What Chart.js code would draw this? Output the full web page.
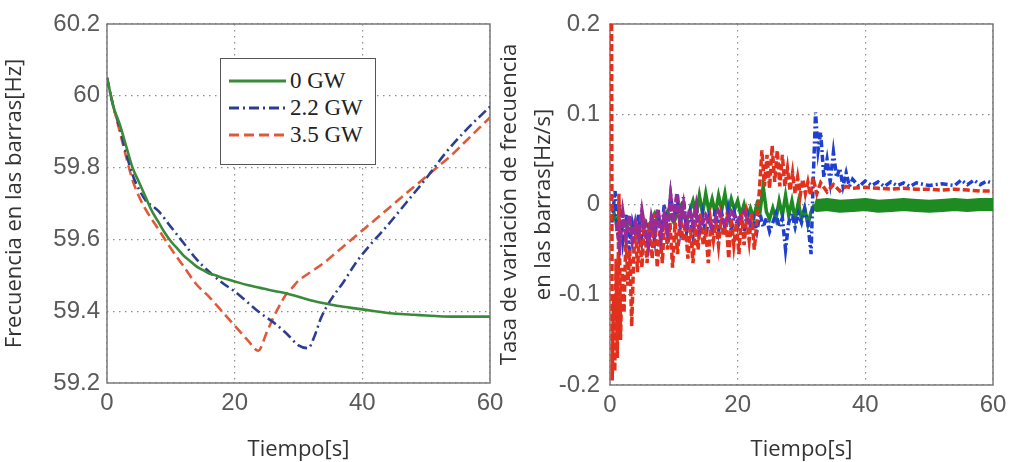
<!DOCTYPE html>
<html>
<head>
<meta charset="utf-8">
<script src="https://cdn.jsdelivr.net/npm/chart.js@4.4.1/dist/chart.umd.min.js"></script>
<style>
  html, body { margin: 0; padding: 0; background: #fff; }
  #wrap { position: relative; width: 1010px; height: 462px; overflow: hidden; background: #fff; }
  .panel { position: absolute; top: 0; }
  #izq { left: 0; }
  #der { left: 490px; }
  #leyenda {
    position: absolute; left: 220px; top: 58px; width: 156px; height: 107px;
    box-sizing: border-box; border: 1.5px solid #555; background: #fff;
    padding-top: 8px; font-family: "Liberation Serif", serif; font-size: 23px; color: #222;
  }
  .fila { height: 27px; display: flex; align-items: center; padding-left: 8px; }
  .fila svg { width: 57px; height: 10px; margin-right: 4px; flex: none; }
</style>
</head>
<body>
<div id="wrap">
  <canvas id="izq" class="panel" width="505" height="462"></canvas>
  <canvas id="der" class="panel" width="520" height="462"></canvas>
  <div id="leyenda"></div>
</div>
<script>
// ejes
const ticksX = [0, 20, 40, 60];
const ticksFrec = [59.2, 59.4, 59.6, 59.8, 60, 60.2];
const etiquetasFrec = ["59.2", "59.4", "59.6", "59.8", "60", "60.2"];
const ticksTasa = [-0.2, -0.1, 0, 0.1, 0.2];
const etiquetasTasa = ["-0.2", "-0.1", "0", "0.1", "0.2"];

const nombres = ["0 GW", "2.2 GW", "3.5 GW"];

// panel izquierdo: frecuencia [Hz]
const tVerde = [0, 1, 2, 3, 4, 5, 6, 7, 8, 9,
  10, 11, 12, 13, 14, 15, 16, 17, 18, 19,
  20,
  22, 24, 26, 28, 30, 32, 34, 36, 38, 40,
  42, 44, 46, 48, 50, 52, 54, 56, 58, 60];
const fVerde = [60.05, 59.97, 59.92, 59.86, 59.8, 59.76, 59.72, 59.68, 59.65, 59.62,
  59.595, 59.575, 59.555, 59.54, 59.525, 59.515, 59.505, 59.5, 59.493, 59.488,
  59.483,
  59.473, 59.465, 59.457, 59.45, 59.44, 59.43, 59.422, 59.415, 59.41, 59.405,
  59.4, 59.395, 59.392, 59.39, 59.388, 59.386, 59.385, 59.385, 59.385, 59.385];

const tAzul = [0, 1, 2, 3, 4, 5, 6, 8, 10, 12,
  14, 16, 18, 20, 22, 24, 26, 28, 30, 31.5,
  32.5, 33.5, 35, 37, 39, 41, 44, 47, 50, 53,
  56, 60];
const fAzul = [60.05, 59.97, 59.91, 59.84, 59.78, 59.74, 59.71, 59.68, 59.635, 59.59,
  59.545, 59.51, 59.48, 59.455, 59.425, 59.395, 59.37, 59.34, 59.305, 59.297,
  59.33, 59.38, 59.43, 59.48, 59.535, 59.58, 59.64, 59.705, 59.77, 59.84,
  59.9, 59.97];

const tRojo = [0, 1, 2, 3, 4, 5, 6, 8, 10, 12,
  14, 16, 18, 20, 22, 23.7, 25, 26, 27, 28,
  29, 30, 32, 34, 36, 38, 40, 42, 44, 46,
  48, 50, 52, 54, 56, 58, 60];
const fRojo = [60.05, 59.97, 59.9, 59.83, 59.765, 59.72, 59.685, 59.63, 59.575, 59.525,
  59.475, 59.44, 59.4, 59.36, 59.32, 59.29, 59.34, 59.38, 59.415, 59.445,
  59.465, 59.485, 59.51, 59.535, 59.565, 59.595, 59.625, 59.655, 59.685, 59.715,
  59.745, 59.775, 59.805, 59.835, 59.87, 59.905, 59.94];

// panel derecho: tasa de variacion [Hz/s]
const tTasaRojo = [0.25, 0.35, 0.55, 0.75, 0.95, 1.15, 1.4, 1.65, 1.9,
  2.2, 2.5, 2.8, 3.1, 3.4, 3.7, 4.0, 4.3, 4.6,
  5.0, 5.4, 5.8, 6.2, 6.6, 7.0, 7.4, 7.8, 8.2, 8.6,
  9.0, 9.4, 9.8, 10.2, 10.6, 11.0, 11.4, 11.8, 12.2, 12.6,
  13.0, 13.4, 13.8, 14.2, 14.6, 15.0, 15.4, 15.8, 16.2, 16.6,
  17.0, 17.4, 17.8, 18.2, 18.6, 19.0, 19.4, 19.8, 20.2, 20.6,
  21.0, 21.4, 21.8, 22.2, 22.6, 23.0, 23.4, 23.8, 24.2, 24.6,
  25.0, 25.4, 25.8, 26.2, 26.6, 27.0, 27.4, 27.8, 28.2, 28.6,
  29.0, 29.4, 29.8, 30.2, 30.6, 31.0, 31.4, 31.8, 32.4, 33,
  34, 35, 36, 37, 38, 40, 42, 44, 46, 48,
  50, 52, 54, 56, 58, 60];
const tasaRojo = [0.2, -0.195, -0.1, -0.185, -0.06, -0.17, 0.012, -0.15, -0.07,
  -0.12, -0.03, -0.09, -0.05, -0.135, -0.06, -0.02, -0.075, -0.03,
  -0.07, -0.015, -0.065, -0.02, -0.06, -0.01, -0.07, -0.03, -0.065, -0.01,
  -0.05, -0.02, -0.07, -0.02, -0.055, -0.01, -0.04, -0.02, -0.06, -0.025,
  -0.065, -0.02, -0.05, -0.01, -0.045, -0.03, -0.065, -0.02, -0.04, -0.02,
  -0.045, -0.015, -0.035, -0.02, -0.06, -0.015, -0.045, -0.02, -0.055, -0.01,
  -0.045, -0.015, -0.04, -0.01, -0.05, -0.02, 0.015, 0.06, 0.02, 0.055,
  0.018, 0.065, 0.025, 0.06, 0.02, 0.055, 0.02, 0.04, 0.015, 0.035,
  0.012, 0.03, 0.01, 0.028, 0.012, 0.025, 0.01, 0.03, 0.012, 0.024,
  0.014, 0.022, 0.015, 0.02, 0.018, 0.019, 0.018, 0.017, 0.018, 0.017,
  0.017, 0.016, 0.017, 0.016, 0.015, 0.015];

const tTasaAzul = [0.3, 0.8, 1.1, 1.5, 2, 2.5, 3, 3.5, 4, 4.5,
  5, 5.5, 6, 6.5, 7, 7.5, 8, 8.5, 9, 9.5,
  10, 10.5, 11, 11.5, 12, 12.5, 13, 13.5, 14, 14.5,
  15, 15.5, 16, 16.5, 17, 17.5, 18, 18.5, 19, 19.5,
  20, 20.5, 21, 21.5, 22, 22.5, 23, 23.5, 24, 24.5,
  25, 25.5, 26, 26.5, 27, 27.5, 28, 28.5, 29, 29.5,
  30, 30.5, 31, 31.5, 31.8, 32.2, 32.6, 33, 33.5, 34,
  34.5, 35, 35.5, 36, 36.5, 37, 37.5, 38, 39, 40,
  41, 42, 43, 44, 45, 46, 47, 48, 50, 52,
  54, 55, 56, 57, 58, 59, 60];
const tasaAzul = [-0.02, 0.015, -0.03, 0.0, -0.04, -0.01, -0.05, -0.02, -0.035, -0.01,
  -0.04, -0.015, -0.045, -0.02, -0.04, -0.005, -0.035, 0.0, -0.03, 0.01,
  -0.02, 0.012, -0.025, 0.008, -0.03, -0.01, -0.035, -0.005, -0.03, -0.01,
  -0.035, -0.015, -0.03, -0.005, -0.03, -0.01, -0.025, -0.005, -0.03, -0.01,
  -0.025, -0.012, -0.03, -0.01, -0.025, -0.015, -0.03, -0.01, -0.025, -0.015,
  -0.03, -0.02, -0.01, -0.025, -0.015, -0.05, -0.02, -0.01, -0.025, -0.01,
  -0.02, -0.005, -0.02, -0.055, 0.02, 0.102, 0.06, 0.08, 0.03, 0.05,
  0.025, 0.058, 0.03, 0.04, 0.02, 0.035, 0.02, 0.028, 0.02, 0.026,
  0.021, 0.025, 0.02, 0.025, 0.021, 0.024, 0.02, 0.024, 0.021, 0.023,
  0.021, 0.027, 0.022, 0.027, 0.022, 0.026, 0.023];

const tTasaVerde = [0.3, 1, 2, 3, 4, 5, 6, 7, 8, 9,
  10, 11, 12, 13, 13.5, 14, 14.5, 15, 15.5, 16,
  16.5, 17, 17.5, 18, 18.5, 19, 19.5, 20, 20.5, 21,
  21.5, 22, 22.5, 23, 23.5, 24, 24.5, 25, 25.5, 26,
  26.5, 27, 27.5, 28, 28.5, 29, 29.5, 30, 30.5, 31,
  31.5, 32, 32.5, 34, 36, 38, 40, 42, 44, 46,
  48, 50, 52, 54, 56, 58, 60];
const tasaVerde = [0, -0.02, -0.025, -0.02, -0.03, -0.015, -0.025, -0.01, -0.025, -0.008,
  -0.02, -0.002, -0.018, 0.004, -0.012, 0.01, -0.01, 0.012, -0.008, 0.006,
  -0.01, 0.01, -0.006, 0.012, -0.01, 0.006, -0.006, 0.004, -0.012, 0.0,
  -0.014, -0.004, -0.015, 0.0, -0.008, 0.02, -0.008, -0.016, -0.004, -0.016,
  0.004, -0.012, 0.01, -0.012, 0.004, -0.016, 0.002, -0.016, -0.004, -0.022,
  -0.008, 0.0, -0.001, 0.0, -0.002, -0.001, 0.0, -0.002, -0.001, 0.0,
  -0.001, -0.002, -0.001, 0.0, -0.001, 0.0, 0.0];

const tTasaMorado = [1, 1.5, 2, 2.5, 3, 3.5, 4, 4.5, 5, 5.5,
  6, 6.5, 7, 7.5, 8, 8.5, 9, 9.5, 10, 10.5,
  11, 11.5, 12, 12.5, 13, 13.5, 14, 15, 16, 17,
  18, 19, 20, 21, 22];
const tasaMorado = [-0.02, -0.045, -0.01, -0.035, -0.012, -0.04, -0.02, -0.035, -0.008, -0.03,
  -0.045, -0.015, -0.03, -0.005, -0.035, -0.012, -0.028, 0.008, -0.02, 0.012,
  -0.018, 0.0, -0.028, -0.006, -0.022, -0.002, -0.028, -0.012, -0.026, -0.008,
  -0.022, -0.008, -0.018, -0.008, -0.022];

const pares = (t, v) => t.map((x, i) => ({ x, y: v[i] }));

const marco = {
  id: "marco",
  beforeDatasetsDraw(chart) {
    const { ctx, chartArea: a } = chart;
    ctx.save();
    ctx.strokeStyle = "#7a7a7a";
    ctx.lineWidth = 1.5;
    ctx.strokeRect(a.left, a.top, a.right - a.left, a.bottom - a.top);
    ctx.restore();
  },
};

function opciones(cfg) {
  return {
    responsive: false,
    animation: false,
    layout: { padding: { left: 0, top: 24, right: cfg.derecha, bottom: 0 } },
    plugins: { legend: { display: false }, tooltip: { enabled: false } },
    scales: {
      x: {
        type: "linear",
        min: 0,
        max: 60,
        afterBuildTicks: (s) => { s.ticks = ticksX.map((v) => ({ value: v })); },
        afterFit: (s) => { s.height = cfg.altoX; s.paddingLeft = 0; s.paddingRight = 0; },
        ticks: {
          color: "#5a5a5a",
          font: { family: "Liberation Sans", size: 24 },
          padding: 6,
          autoSkip: false,
          maxRotation: 0,
          callback: (v) => String(v),
        },
        grid: { color: "#8c8c8c", lineWidth: 1.2, drawTicks: false },
        border: { display: false, dash: [1.5, 4.5] },
        title: {
          display: true,
          text: "Tiempo[s]",
          color: "#333",
          font: { family: "Open Sans", size: 22, lineHeight: 1 },
          padding: { top: 0, bottom: 1 },
        },
      },
      y: {
        type: "linear",
        min: cfg.ticks[0],
        max: cfg.ticks[cfg.ticks.length - 1],
        afterBuildTicks: (s) => { s.ticks = cfg.ticks.map((v) => ({ value: v })); },
        afterFit: (s) => { s.width = cfg.anchoY; s.paddingTop = 0; s.paddingBottom = 0; },
        ticks: {
          color: "#5a5a5a",
          font: { family: "Liberation Sans", size: 24 },
          padding: cfg.padY,
          autoSkip: false,
          callback: (v, i) => cfg.etiquetas[i],
        },
        grid: { color: "#8c8c8c", lineWidth: 1.2, drawTicks: false },
        border: { display: false, dash: [1.5, 4.5] },
        title: {
          display: true,
          text: cfg.tituloY,
          color: "#333",
          font: { family: "Open Sans", size: 22, lineHeight: cfg.altoLinea },
          padding: { top: cfg.padTitulo, bottom: 0 },
        },
      },
    },
  };
}

// colores y trazos
const coloresIzq = ["#3a8a3a", "#2c3f8f", "#df5a3a"];
const trazosIzq = [[], [10, 4, 2, 4], [10, 5]];

new Chart(document.getElementById("izq"), {
  type: "line",
  data: {
    datasets: [
      { label: nombres[0], data: pares(tVerde, fVerde) },
      { label: nombres[1], data: pares(tAzul, fAzul) },
      { label: nombres[2], data: pares(tRojo, fRojo) },
    ].map((d, i) => ({
      ...d,
      borderColor: coloresIzq[i],
      borderDash: trazosIzq[i],
      borderWidth: 2.6,
      pointRadius: 0,
      cubicInterpolationMode: "monotone",
    })),
  },
  options: opciones({
    derecha: 15, altoX: 79, anchoY: 107, padY: 7,
    ticks: ticksFrec, etiquetas: etiquetasFrec,
    tituloY: "Frecuencia en las barras[Hz]", altoLinea: 1.2, padTitulo: 2,
  }),
  plugins: [marco],
});

// el primer conjunto se dibuja encima
new Chart(document.getElementById("der"), {
  type: "line",
  data: {
    datasets: [
      { data: pares(tTasaMorado, tasaMorado), borderColor: "#9a2a96", borderWidth: 4, borderDash: [8, 2] },
      { data: pares(tTasaRojo, tasaRojo), borderColor: "#e0301e", borderWidth: 3.5, borderDash: [7, 3] },
      { data: pares(tTasaAzul, tasaAzul), borderColor: "#1f3fd0", borderWidth: 3.5, borderDash: [7, 3, 2, 3] },
      {
        data: pares(tTasaVerde, tasaVerde),
        borderColor: "#1d8a22",
        borderWidth: 3.5,
        segment: { borderWidth: (c) => (c.p0.parsed.x >= 32 ? 13 : 3.5) },
      },
    ].map((d) => ({ ...d, pointRadius: 0, tension: 0 })),
  },
  options: opciones({
    derecha: 17, altoX: 77, anchoY: 120, padY: 10,
    ticks: ticksTasa, etiquetas: etiquetasTasa,
    tituloY: ["Tasa de variación de frecuencia", "en las barras[Hz/s]"], altoLinea: 34 / 22, padTitulo: 3,
  }),
  plugins: [marco],
});

// leyenda dentro del panel izquierdo
const leyenda = document.getElementById("leyenda");
nombres.forEach((n, i) => {
  const fila = document.createElement("div");
  fila.className = "fila";
  fila.innerHTML = `<svg viewBox="0 0 57 10"><line x1="0" y1="5" x2="57" y2="5" stroke="${coloresIzq[i]}" stroke-width="3" stroke-dasharray="${trazosIzq[i].join(" ") || "none"}"/></svg><span>${n}</span>`;
  leyenda.appendChild(fila);
});
</script>
</body>
</html>
